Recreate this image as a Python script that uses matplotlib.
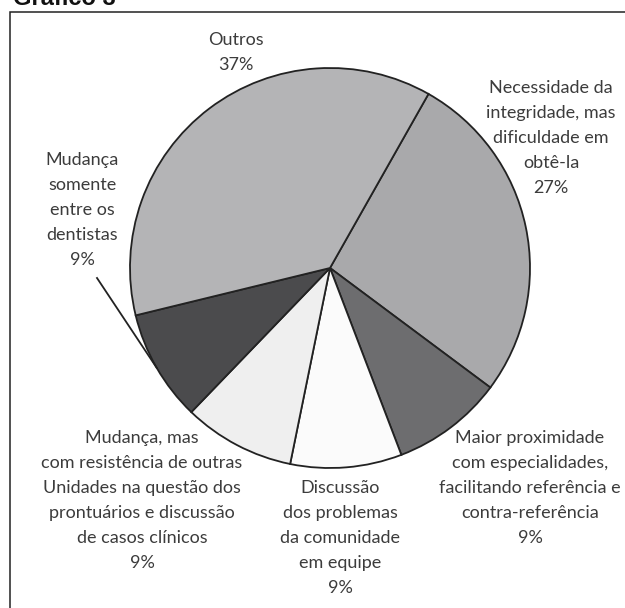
import matplotlib.pyplot as plt
import matplotlib.patches as patches
import numpy as np

# data
labels = ["Necessidade da\nintegridade, mas\ndificuldade em\nobtê-la",
          "Maior proximidade\ncom especialidades,\nfacilitando referência e\ncontra-referência",
          "Discussão\ndos problemas\nda comunidade\nem equipe",
          "Mudança, mas\ncom resistência de outras\nUnidades na questão dos\nprontuários e discussão\nde casos clínicos",
          "Mudança\nsomente\nentre os\ndentistas",
          "Outros"]
values = [27, 9, 9, 9, 9, 37]
colors = ["#a9a9ab", "#6d6d6f", "#fbfbfb", "#efefef", "#4b4b4d", "#b4b4b6"]

# label centres in pixels (x, y of first line)
label_px = [(551, 90), (530, 440), (340, 490), (142, 440), (82, 162), (236, 42)]

W, H = 625, 608
cx, cy, R = 330, 268, 200

fig = plt.figure(figsize=(W / 100, H / 100), dpi=100)
ax = fig.add_axes([0, 0, 1, 1])
wedges, _ = ax.pie(values, colors=colors, startangle=60.5, counterclock=False,
                   wedgeprops=dict(edgecolor="#222222", linewidth=1.3))
ax.set_xlim(-cx / R, (W - cx) / R)
ax.set_ylim(-(H - cy) / R, cy / R)
ax.set_aspect("equal")
ax.axis("off")

txt = dict(ha="center", va="top", fontsize=13, color="#3c3c3c",
           family="Lato", linespacing=1.7)
for lab, v, (px, py) in zip(labels, values, label_px):
    s = lab + "\n" + str(v) + "%"
    ax.text((px - cx) / R, (cy - py + 10) / R, s, **txt)

# leader line for "Mudança somente"
w = wedges[4]
ang = np.deg2rad((w.theta1 + w.theta2) / 2)
ax.plot([(97 - cx) / R, np.cos(ang)], [(cy - 278) / R, np.sin(ang)],
        color="#222222", lw=1.3)

# frame and title
fig.add_artist(patches.Rectangle((10 / W, -0.1), 1.2, (H - 12) / H + 0.1,
                                 transform=fig.transFigure, fill=False,
                                 edgecolor="#222222", lw=1.1))
fig.text(13 / W, 1 - 5 / H, "Gráfico 3", fontsize=17, fontweight="bold",
         family="Liberation Sans", va="baseline", color="#111111")

fig.savefig("out.png", dpi=100)
